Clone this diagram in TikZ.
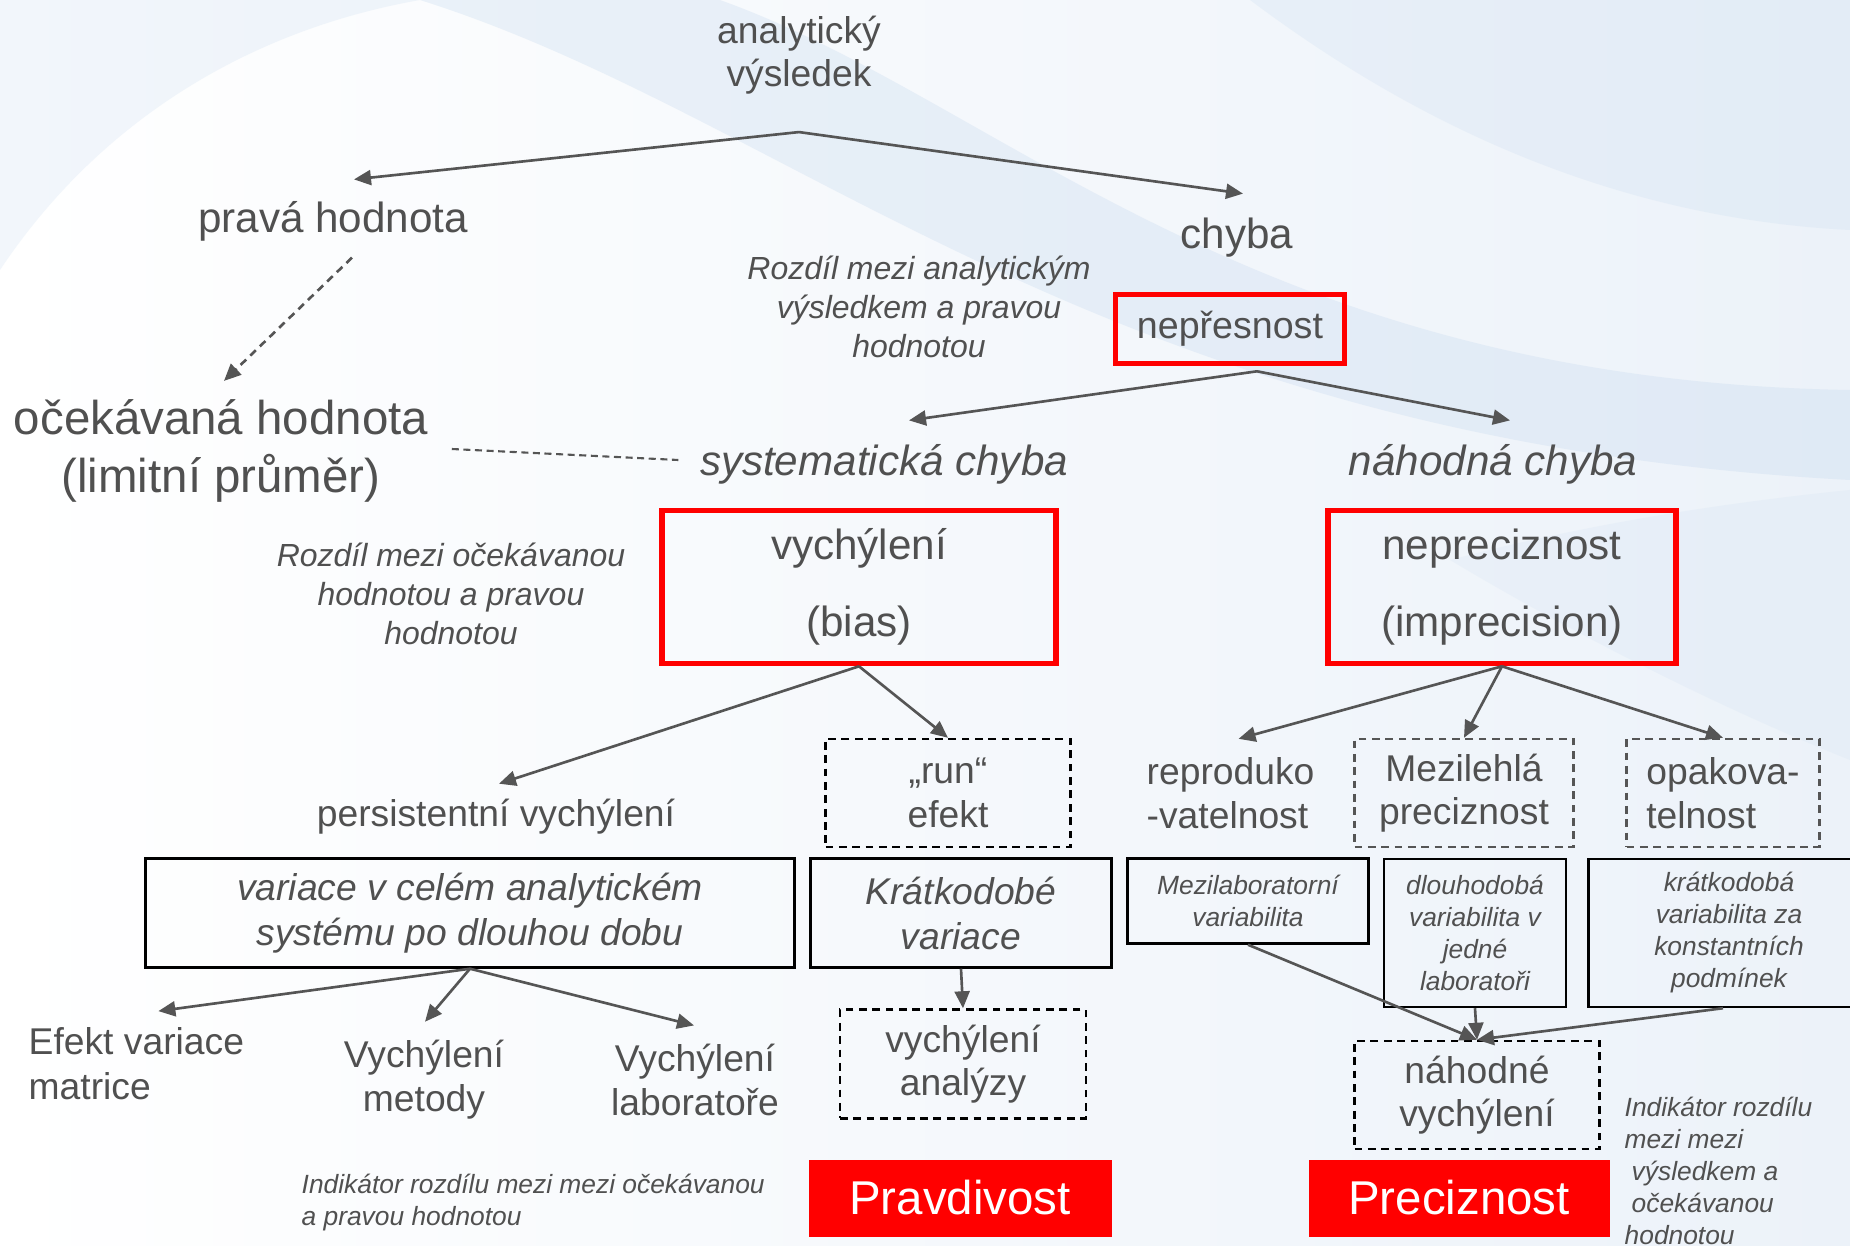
\documentclass[tikz,border=0pt]{standalone}
\usepackage{fontspec}
\setmainfont{Liberation Sans}
\usetikzlibrary{arrows.meta}

\definecolor{txtgray}{RGB}{80,80,80}
\definecolor{arrgray}{RGB}{85,85,85}
\definecolor{hotred}{RGB}{255,0,0}
\definecolor{bgbase}{RGB}{236,242,249}
\definecolor{swoosh}{RGB}{196,216,238}

\tikzset{
  lbl/.style={text=txtgray, align=center, inner sep=0pt, font=\fontsize{10.6}{12.4}\selectfont},
  free/.style={yshift=-0.3mm},
  biglbl/.style={lbl, free, font=\fontsize{12}{14}\selectfont},
  itlbl/.style={lbl, free, font=\itshape\fontsize{12}{14}\selectfont},
  note/.style={lbl, font=\itshape\fontsize{9.1}{11.1}\selectfont},
  tinynote/.style={lbl, font=\itshape\fontsize{7.5}{9.1}\selectfont},
  arr/.style={draw=arrgray, line width=0.75pt, -{Triangle[length=1.7mm,width=1.5mm]}},
  dasharr/.style={arr, dash pattern=on 2.2pt off 1.6pt},
  dashline/.style={draw=arrgray, line width=0.6pt, dash pattern=on 2pt off 1.3pt},
  redbox/.style={lbl, draw=hotred, line width=1.6pt, font=\fontsize{12}{21.9}\selectfont},
  blackbox/.style={lbl, draw=black, line width=0.7pt},
  dashbox/.style={lbl, draw=black, line width=0.7pt, dash pattern=on 2.2pt off 1.6pt},
  greydashbox/.style={dashbox, draw=arrgray},
  redfill/.style={fill=hotred, text=white, inner sep=0pt, font=\fontsize{13.5}{16}\selectfont},
}

\begin{document}
\begin{tikzpicture}[x=0.1mm,y=-0.1mm]
%%%%% BACKGROUND %%%%%
\useasboundingbox (0,0) rectangle (1850,1246);
\shade[left color=white, right color=bgbase] (0,0) rectangle (1850,1246);
\fill[swoosh, opacity=0.3] (420,0) .. controls (800,120) and (1100,440) .. (1850,480) -- (1850,390) .. controls (1250,380) and (1000,100) .. (720,0) -- cycle;
\fill[swoosh, opacity=0.22] (1250,0) .. controls (1450,150) and (1650,220) .. (1850,230) -- (1850,0) -- cycle;
\fill[swoosh, opacity=0.15] (1450,560) .. controls (1600,520) and (1750,500) .. (1850,490) -- (1850,760) .. controls (1700,700) and (1550,620) .. (1450,560) -- cycle;
\fill[swoosh, opacity=0.22] (0,270) .. controls (100,120) and (250,30) .. (420,0) -- (0,0) -- cycle;

%%%%% TOP %%%%%
\node[lbl, free] (vysl) at (799,52) {analytický\\výsledek};
\coordinate (forkA) at ([yshift=-3.7mm]vysl.south);
\node[biglbl] (prava) at (333,218) {pravá hodnota};
\node[biglbl] (chyba) at (1237,235) {chyba};
\node[lbl, free, font=\fontsize{13.5}{16.5}\selectfont] (ocek) at (221,448) {očekávaná hodnota\\(limitní průměr)};
\node[note] (rozdilA) at (919,307) {Rozdíl mezi analytickým\\výsledkem a pravou\\hodnotou};
\node[redbox, font=\fontsize{10.7}{13}\selectfont, minimum width=22.9mm, minimum height=6.9mm] (nepres) at (1230,329) {nepřesnost};
\coordinate (nepresfork) at ([shift={(27,5)}]nepres.south);

\draw[arr] (forkA) -- ([shift={(21,-21)}]prava.north);
\draw[arr] (forkA) -- ([shift={(6,-24)}]chyba.north);
\draw[dasharr] ([shift={(19,16)}]prava.south) -- ([shift={(3,-18)}]ocek.north);

%%%%% ERRORS %%%%%
\node[itlbl] (syst) at (884,461) {systematická chyba};
\node[itlbl] (nahod) at (1493,461) {náhodná chyba};
\draw[dashline] ([shift={(23,-2)}]ocek.east) -- ([shift={(-21,-4)}]syst.west);
\draw[arr] (nepresfork) -- ([shift={(25,-23)}]syst.north);
\draw[arr] (nepresfork) -- ([shift={(17,-23)}]nahod.north);

\node[redbox, minimum width=39.4mm, minimum height=15.3mm] (vych) at (859,587) {vychýlení\\(bias)};
\node[redbox, minimum width=34.8mm, minimum height=15.3mm] (neprec) at (1502,587) {nepreciznost\\(imprecision)};
\node[note] (rozdilB) at (451,594) {Rozdíl mezi očekávanou\\hodnotou a pravou\\hodnotou};

%%%%% LEFT BRANCH %%%%%
\node[lbl, free] (persist) at (496,814) {persistentní vychýlení};
\node[dashbox, minimum width=24.5mm, minimum height=10.8mm] (run) at (948,793) {„run“\\efekt};
\draw[arr] (vych.south) -- ([shift={(3,-15)}]persist.north);
\draw[arr] (vych.south) -- (run.north);

\node[blackbox, font=\itshape\fontsize{10.6}{12.8}\selectfont, minimum width=64.9mm, minimum height=10.9mm] (varbox) at (470,913) {variace v celém analytickém\\systému po dlouhou dobu};
\node[blackbox, font=\itshape\fontsize{10.6}{12.8}\selectfont, minimum width=30.1mm, minimum height=10.9mm] (kratk) at (961,913) {Krátkodobé\\variace};

\node[lbl, font=\fontsize{10.6}{12.8}\selectfont, align=left, anchor=west] (efekt) at (28,1064) {Efekt variace\\matrice};
\node[lbl, font=\fontsize{10.6}{12.5}\selectfont] (vmet) at (424,1080) {Vychýlení\\metody};
\node[lbl, font=\fontsize{10.6}{12.5}\selectfont] (vlab) at (695,1080) {Vychýlení\\laboratoře};
\node[dashbox, minimum width=24.6mm, minimum height=10.9mm] (vanal) at (963,1064) {vychýlení\\analýzy};
\draw[arr] (varbox.south) -- ([shift={(22,-16)}]efekt.north);
\draw[arr] (varbox.south) -- ([shift={(1,-18)}]vmet.north);
\draw[arr] (varbox.south) -- ([shift={(-1,-18)}]vlab.north);
\draw[arr] (kratk.south) -- (vanal.north);

\node[redfill, minimum width=30.3mm, minimum height=7.7mm] (pravd) at (960,1198) {Pravdivost};
\node[tinynote, align=left, anchor=west] (indA) at (301,1203) {Indikátor rozdílu mezi mezi očekávanou\\a pravou hodnotou};

%%%%% RIGHT BRANCH %%%%%
\node[lbl, align=left, anchor=west] (repro) at (1146,793) {reproduko\\-vatelnost};
\node[greydashbox, minimum width=21.9mm, minimum height=10.8mm] (mezil) at (1464,793) {Mezilehlá\\preciznost};
\node[greydashbox, align=left, minimum width=19.3mm, minimum height=10.8mm] (opak) at (1723,793) {opakova-\\telnost};
\draw[arr] (neprec.south) -- ([shift={(8,-18)}]repro.north);
\draw[arr] (neprec.south) -- (mezil.north);
\draw[arr] (neprec.south) -- (opak.north);

\node[blackbox, tinynote, minimum width=24.1mm, minimum height=8.5mm] (mlab) at (1248,901) {Mezilaboratorní\\variabilita};
\node[blackbox, tinynote, minimum width=18.2mm, minimum height=14.8mm] (dlouh) at (1475,933) {dlouhodobá\\variabilita v\\jedné\\laboratoři};
\node[blackbox, tinynote, minimum width=28.1mm, minimum height=14.8mm] (kratv) at (1729,933) {krátkodobá\\variabilita za\\konstantních\\podmínek};

\node[dashbox, minimum width=24.5mm, minimum height=10.8mm] (nahv) at (1477,1095) {náhodné\\vychýlení};
\draw[arr] (mlab.south) -- (nahv.north);
\draw[arr] (dlouh.south) -- (nahv.north);
\draw[arr] ([xshift=-0.6mm]kratv.south) -- (nahv.north);

\node[redfill, minimum width=30.1mm, minimum height=7.7mm] (prec) at (1459,1198) {Preciznost};
\node[tinynote, align=left, anchor=west] (indB) at (1624,1171) {Indikátor rozdílu\\mezi mezi\\\hspace*{2pt}výsledkem a\\\hspace*{2pt}očekávanou\\hodnotou};
\end{tikzpicture}
\end{document}
